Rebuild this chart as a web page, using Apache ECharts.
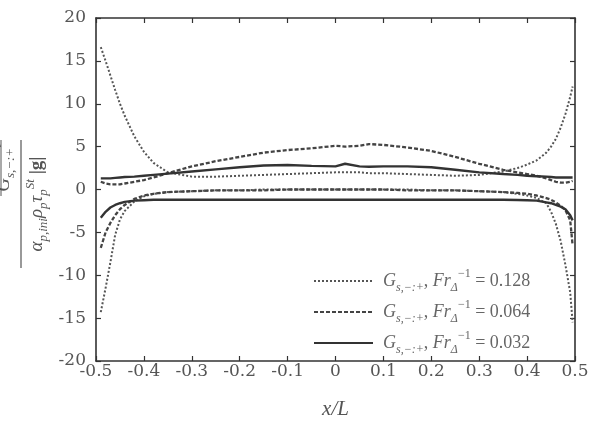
<!DOCTYPE html>
<html>
<head>
<meta charset="utf-8">
<script src="https://cdn.jsdelivr.net/npm/echarts@6/dist/echarts.min.js"></script>
<style>html,body{margin:0;padding:0;background:#fff}#chart{width:589px;height:422px}</style>
</head>
<body>
<div id="chart"></div>
<script>
// x positions shared by all curves
const xGrid = [-0.49, -0.48, -0.47, -0.46, -0.45, -0.44, -0.42, -0.40, -0.38, -0.35,
  -0.30, -0.25, -0.20, -0.15, -0.10, -0.05, 0, 0.02, 0.05, 0.07,
  0.10, 0.15, 0.20, 0.25, 0.30, 0.35, 0.38, 0.40, 0.42, 0.44,
  0.45, 0.46, 0.47, 0.48, 0.49, 0.495];

// Fr^-1 = 0.128 (dotted)
const upper128 = [16.6, 15.0, 13.3, 11.6, 10.0, 8.6, 6.2, 4.4, 3.1, 2.0,
  1.5, 1.5, 1.6, 1.7, 1.8, 1.9, 2.0, 2.0, 2.0, 1.9,
  1.9, 1.8, 1.7, 1.6, 1.7, 2.1, 2.5, 2.9, 3.4, 4.3,
  5.0, 5.9, 7.2, 8.8, 10.8, 12.0];
const lower128 = [-14.3, -11.5, -8.5, -5.3, -3.5, -2.5, -1.4, -0.8, -0.5, -0.3,
  -0.2, -0.1, -0.1, 0, 0, 0, 0, 0, 0, 0,
  0, 0, -0.1, -0.1, -0.2, -0.3, -0.5, -0.7, -1.0, -1.6,
  -2.6, -4.0, -6.0, -8.8, -12.0, -15.5];

// Fr^-1 = 0.064 (dashed)
const upper064 = [0.9, 0.7, 0.6, 0.6, 0.6, 0.7, 0.9, 1.1, 1.4, 1.9,
  2.7, 3.3, 3.8, 4.3, 4.6, 4.8, 5.1, 5.0, 5.1, 5.3,
  5.2, 4.9, 4.5, 3.8, 3.0, 2.3, 2.0, 1.8, 1.6, 1.3,
  1.1, 0.9, 0.8, 0.8, 0.9, 1.0];
const lower064 = [-6.8, -5.0, -3.9, -3.0, -2.3, -1.8, -1.1, -0.7, -0.5, -0.3,
  -0.2, -0.1, -0.1, -0.1, 0, 0, 0, 0, 0, 0,
  0, -0.1, -0.1, -0.1, -0.2, -0.3, -0.4, -0.5, -0.7, -1.0,
  -1.2, -1.5, -1.9, -2.4, -3.6, -6.5];

// Fr^-1 = 0.032 (solid)
const upper032 = [1.3, 1.3, 1.3, 1.35, 1.4, 1.45, 1.5, 1.6, 1.7, 1.85,
  2.1, 2.35, 2.6, 2.8, 2.85, 2.75, 2.7, 3.0, 2.7, 2.65,
  2.7, 2.7, 2.6, 2.3, 2.0, 1.8, 1.7, 1.6, 1.55, 1.5,
  1.45, 1.4, 1.4, 1.4, 1.4, 1.4];
const lower032 = [-3.3, -2.6, -2.1, -1.8, -1.6, -1.45, -1.3, -1.25, -1.2, -1.2,
  -1.2, -1.2, -1.2, -1.2, -1.2, -1.2, -1.2, -1.2, -1.2, -1.2,
  -1.2, -1.2, -1.2, -1.2, -1.2, -1.2, -1.22, -1.25, -1.3, -1.5,
  -1.6, -1.8, -2.0, -2.3, -3.0, -3.6];

const legendNames = ['0.128', '0.064', '0.032'];

const serif = 'Liberation Serif';
const tickFont = 'DejaVu Serif';
const txt = '#555';

function pairs(ys) {
  return xGrid.map((x, i) => [x, ys[i]]);
}

const styles = {
  '0.128': { color: '#555', width: 2, type: [2, 2] },
  '0.064': { color: '#444', width: 2.3, type: [4, 2] },
  '0.032': { color: '#333', width: 2.4, type: 'solid' }
};

function line(name, ys) {
  const s = styles[name];
  return {
    name: name,
    type: 'line',
    data: pairs(ys),
    symbol: 'none',
    silent: true,
    color: s.color,
    lineStyle: { color: s.color, width: s.width, type: s.type }
  };
}

// rich styles for math-like text
const mathRich = {
  g: { fontFamily: serif, fontStyle: 'italic', fontSize: 18, color: '#666', lineHeight: 26 },
  s: { fontFamily: serif, fontStyle: 'italic', fontSize: 12, color: '#666', verticalAlign: 'bottom', lineHeight: 26 },
  p: { fontFamily: serif, fontSize: 12, color: '#666', verticalAlign: 'top', lineHeight: 26 },
  c: { fontFamily: serif, fontSize: 18, color: '#666', lineHeight: 26 },
  f: { fontFamily: serif, fontStyle: 'italic', fontSize: 18, color: '#666', lineHeight: 26, padding: [0, 0, 0, 5] }
};

const gRich = {
  g: { fontFamily: serif, fontStyle: 'italic', fontSize: 19, fill: '#555', lineHeight: 26 },
  s: { fontFamily: serif, fontStyle: 'italic', fontSize: 13, fill: '#555', verticalAlign: 'bottom', lineHeight: 26 },
  p: { fontFamily: serif, fontStyle: 'italic', fontSize: 13, fill: '#555', verticalAlign: 'top', lineHeight: 26 },
  b: { fontFamily: serif, fontWeight: 'bold', fontSize: 19, fill: '#555', lineHeight: 26 }
};

const axisLine = { show: true, onZero: false, lineStyle: { color: '#333', width: 1.6 } };
const axisTick = { show: true, inside: true, length: 5, lineStyle: { color: '#333', width: 1.2 } };

const chart = echarts.init(document.getElementById('chart'));

chart.setOption({
  animation: false,
  grid: { left: 96, right: 14, top: 18, bottom: 61, outerBoundsMode: 'none', containLabel: false },
  xAxis: [{
    type: 'value', min: -0.5, max: 0.5, interval: 0.1,
    name: 'x/L', nameLocation: 'middle', nameGap: 38,
    nameTextStyle: { fontFamily: serif, fontStyle: 'italic', fontSize: 21, color: txt },
    axisLine: axisLine, axisTick: axisTick,
    axisLabel: { fontFamily: tickFont, fontSize: 17, color: txt, margin: 2 },
    splitLine: { show: false }
  }, {
    type: 'value', min: -0.5, max: 0.5, interval: 0.1, position: 'top',
    axisLine: axisLine, axisTick: axisTick,
    axisLabel: { show: false },
    splitLine: { show: false }
  }],
  yAxis: [{
    type: 'value', min: -20, max: 20, interval: 5,
    axisLine: axisLine, axisTick: axisTick,
    axisLabel: { fontFamily: tickFont, fontSize: 17, color: txt, margin: 10 },
    splitLine: { show: false }
  }, {
    type: 'value', min: -20, max: 20, interval: 5, position: 'right',
    axisLine: axisLine, axisTick: axisTick,
    axisLabel: { show: false },
    splitLine: { show: false }
  }],
  legend: {
    data: legendNames,
    orient: 'vertical',
    left: 313, top: 268, padding: 0,
    itemWidth: 59, itemHeight: 14, itemGap: 5,
    selectedMode: false,
    itemStyle: { opacity: 0 },
    formatter: n => '{f|G}{s|s,−:+}{c|, }{g|Fr}{s|Δ}{p|−1}{c| = ' + n + '}',
    textStyle: { rich: mathRich }
  },
  graphic: [{
    type: 'group', x: 21, y: 204, rotation: Math.PI / 2, silent: true,
    children: [
      { type: 'line', shape: { x1: -64, y1: 0, x2: 64, y2: 0 }, style: { stroke: '#555', lineWidth: 1.2 } },
      { type: 'line', shape: { x1: 8, y1: -20, x2: 64, y2: -20 }, style: { stroke: '#555', lineWidth: 1 } },
      { type: 'text', x: 36, y: -4, style: { text: '{g|G}{s|s,−:+}{p|t}', rich: gRich, align: 'center', verticalAlign: 'bottom' } },
      { type: 'text', x: 0, y: 3, style: { text: '{g|α}{s|p,ini}{g|ρ}{s|p}{g|τ}{s|p}{p|St}{b| |g|}', rich: gRich, align: 'center', verticalAlign: 'top' } }
    ]
  }],
  series: [
    line('0.128', upper128),
    line('0.128', lower128),
    line('0.064', upper064),
    line('0.064', lower064),
    line('0.032', upper032),
    line('0.032', lower032)
  ]
});
</script>
</body>
</html>
